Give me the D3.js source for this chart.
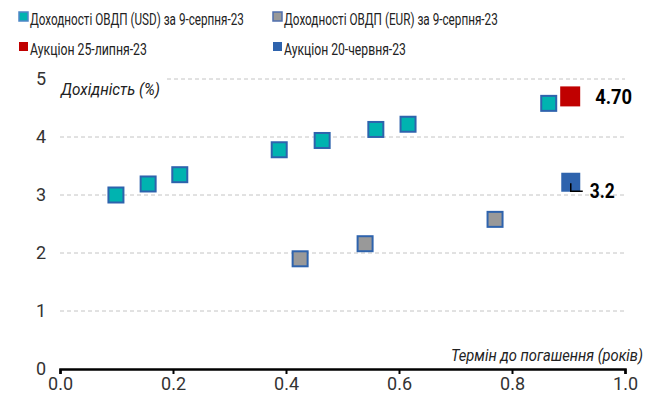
<!DOCTYPE html>
<html>
<head>
<meta charset="utf-8">
<script src="https://cdn.jsdelivr.net/npm/d3@7"></script>
<style>
  body { margin: 0; background: #fff; }
  text { font-family: Roboto, "Liberation Sans", sans-serif; }
</style>
</head>
<body>
<div id="chart"></div>
<script>
// yields of OVDP bonds, x = years to maturity, y = yield %
var usdTerm = [0.099, 0.156, 0.212, 0.388, 0.464, 0.559, 0.616, 0.865];
var usdYield = [3.00, 3.19, 3.35, 3.78, 3.94, 4.13, 4.22, 4.58];
var eurTerm = [0.425, 0.540, 0.770];
var eurYield = [1.90, 2.16, 2.58];
var auctionJulTerm = [0.903];
var auctionJulYield = [4.70];
var auctionJunTerm = [0.904];
var auctionJunYield = [3.22];
var xTicks = [0, 0.2, 0.4, 0.6, 0.8, 1.0];
var yTicks = [0, 1, 2, 3, 4, 5];
var legendLabels = [
  "Доходності ОВДП (USD) за 9-серпня-23",
  "Доходності ОВДП (EUR) за 9-серпня-23",
  "Аукціон 25-липня-23",
  "Аукціон 20-червня-23"
];

var width = 653, height = 403;
var x = d3.scaleLinear().domain([0, 1]).range([60, 625]);
var y = d3.scaleLinear().domain([0, 5]).range([369, 79]);

var svg = d3.select("#chart").append("svg")
  .attr("width", width).attr("height", height);

// squeeze a text horizontally so it looks like the narrow font of the original
function narrowText(g, str, px, py, w, anchor) {
  var t = g.append("text").text(str);
  var natural = t.node().getComputedTextLength();
  var k = w / natural;
  var ox = anchor === "end" ? px - w : px;
  t.attr("transform", "translate(" + ox + "," + py + ") scale(" + k + ",1)");
  return t;
}

// legend
var legendItems = [
  {fill: "#00b3b0", stroke: "#4f86c6", x: 19, y: 18, w: 214},
  {fill: "#999999", stroke: "#4f6fae", x: 273, y: 18, w: 214},
  {fill: "#c00000", stroke: "none", x: 19, y: 48, w: 117},
  {fill: "#2e63ad", stroke: "none", x: 273, y: 48, w: 122}
];
var legend = svg.append("g").attr("font-size", 17).attr("fill", "#222");
legendItems.forEach(function(d, i) {
  legend.append("rect")
    .attr("x", d.x).attr("y", d.y - 6)
    .attr("width", 9).attr("height", 9)
    .attr("fill", d.fill)
    .attr("stroke", d.stroke)
    .attr("stroke-width", 1.5);
  narrowText(legend, legendLabels[i], d.x + 11, d.y + 7, d.w);
});

// grid lines
svg.append("g").selectAll("line").data(yTicks.filter(function(t) { return t > 0; })).enter()
  .append("line")
  .attr("x1", function(d) { return d === 5 ? 167 : x(0); })
  .attr("x2", x(1))
  .attr("y1", function(d) { return y(d); })
  .attr("y2", function(d) { return y(d); })
  .attr("stroke", "#c4c4c4")
  .attr("stroke-width", 1)
  .attr("stroke-dasharray", "4,3");

// y tick labels
svg.append("g").selectAll("text").data(yTicks).enter().append("text")
  .attr("x", 46)
  .attr("y", function(d) { return y(d) + 6; })
  .attr("text-anchor", "end")
  .attr("font-size", 18)
  .attr("fill", "#333")
  .text(function(d) { return d; });

// x axis
var xAxis = svg.append("g")
  .attr("transform", "translate(0," + y(0) + ")")
  .call(d3.axisBottom(x).tickValues(xTicks).tickFormat(d3.format(".1f")).tickSize(5).tickPadding(3));
xAxis.select(".domain").attr("stroke", "#000").attr("stroke-width", 2.5);
xAxis.selectAll(".tick line").attr("stroke", "#000").attr("stroke-width", 2);
xAxis.selectAll(".tick text")
  .attr("font-size", 18)
  .attr("fill", "#333")
  .attr("font-family", "Roboto, sans-serif");

// axis titles
var titles = svg.append("g").attr("font-size", 16).attr("font-style", "italic").attr("fill", "#222");
narrowText(titles, "Дохідність (%)", 61, 95, 99);
narrowText(titles, "Термін до погашення (років)", 643, 361, 192, "end");

// points
function squares(xs, ys, size, fill, stroke, sw) {
  svg.append("g").selectAll("rect").data(xs).enter().append("rect")
    .attr("x", function(d) { return x(d) - size / 2; })
    .attr("y", function(d, i) { return y(ys[i]) - size / 2; })
    .attr("width", size).attr("height", size)
    .attr("fill", fill)
    .attr("stroke", stroke)
    .attr("stroke-width", sw);
}
squares(usdTerm, usdYield, 15, "#00b3b0", "#2e63ad", 2);
squares(eurTerm, eurYield, 15, "#999999", "#2e63ad", 2);
squares(auctionJulTerm, auctionJulYield, 20, "#c00000", "none", 0);
squares(auctionJunTerm, auctionJunYield, 19, "#2e63ad", "none", 0);

// labels for auctions
var labels = svg.append("g").attr("font-size", 20).attr("font-weight", "bold").attr("fill", "#000");
narrowText(labels, auctionJulYield[0].toFixed(2), x(auctionJulTerm[0]) + 25, y(auctionJulYield[0]) + 8, 37);

var jx = x(auctionJunTerm[0]), jy = y(auctionJunYield[0]);
svg.append("path")
  .attr("d", "M" + jx + "," + (jy + 1) + "V" + (jy + 9) + "H" + (jx + 12))
  .attr("fill", "none").attr("stroke", "#000").attr("stroke-width", 1.5);
narrowText(labels, auctionJunYield[0].toFixed(1), jx + 19, jy + 16, 25);
</script>
</body>
</html>
